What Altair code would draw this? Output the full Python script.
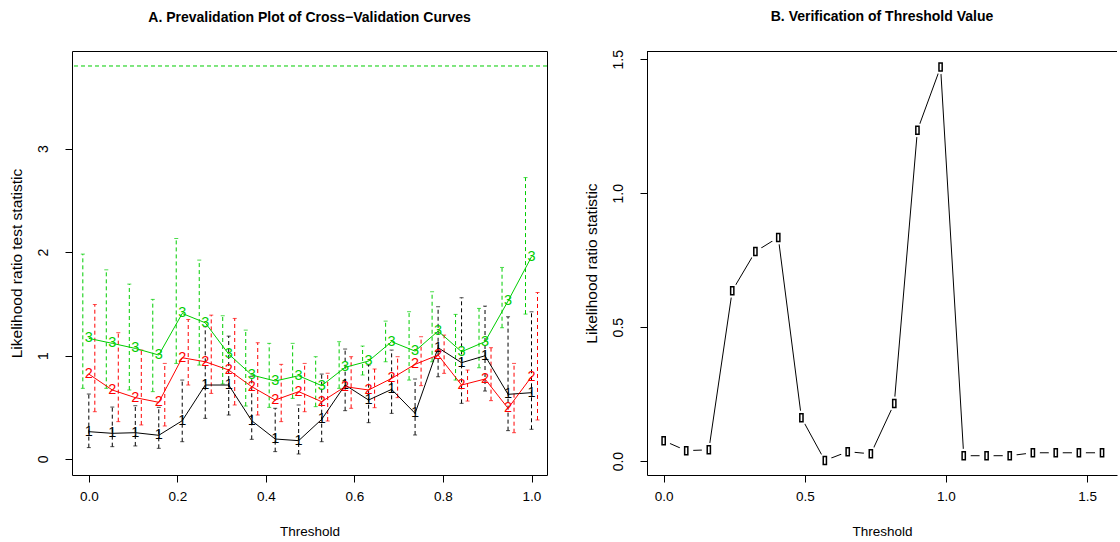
import altair as alt
import pandas as pd

# ---------------- Panel A data ----------------
thresholds = [0.000, 0.053, 0.105, 0.158, 0.211, 0.263, 0.316, 0.368, 0.421, 0.474,
              0.526, 0.579, 0.632, 0.684, 0.737, 0.789, 0.842, 0.895, 0.947, 1.000]

curve1 = [0.264, 0.248, 0.254, 0.229, 0.370, 0.715, 0.715, 0.370, 0.193, 0.177,
          0.383, 0.715, 0.570, 0.673, 0.441, 1.076, 0.931, 0.998, 0.625, 0.641]
curve1_lo = [0.110, 0.119, 0.126, 0.103, 0.167, 0.393, 0.425, 0.190, 0.071, 0.048,
             0.167, 0.467, 0.351, 0.441, 0.232, 0.795, 0.538, 0.657, 0.274, 0.287]
curve1_hi = [0.628, 0.502, 0.515, 0.499, 0.763, 1.279, 1.188, 0.800, 0.490, 0.522,
             0.821, 1.063, 0.908, 1.053, 0.773, 1.472, 1.559, 1.478, 1.375, 1.423]

curve2 = [0.821, 0.667, 0.593, 0.548, 0.979, 0.940, 0.860, 0.699, 0.570, 0.651,
          0.554, 0.699, 0.667, 0.779, 0.915, 1.005, 0.715, 0.773, 0.490, 0.795]
curve2_lo = [0.457, 0.361, 0.329, 0.319, 0.715, 0.634, 0.522, 0.425, 0.361, 0.457,
             0.367, 0.490, 0.496, 0.593, 0.709, 0.828, 0.560, 0.564, 0.254, 0.377]
curve2_hi = [1.494, 1.221, 1.053, 0.924, 1.349, 1.391, 1.359, 1.124, 0.915, 0.924,
             0.828, 0.989, 0.870, 0.989, 1.182, 1.198, 0.860, 1.076, 0.924, 1.610]

curve3 = [1.166, 1.118, 1.069, 1.005, 1.407, 1.317, 1.014, 0.812, 0.754, 0.805,
          0.709, 0.886, 0.947, 1.134, 1.043, 1.237, 1.037, 1.134, 1.527, 1.955]
curve3_lo = [0.683, 0.683, 0.667, 0.651, 0.924, 0.908, 0.725, 0.512, 0.499, 0.586,
             0.506, 0.683, 0.812, 0.940, 0.763, 0.940, 0.763, 0.882, 1.269, 1.401]
curve3_hi = [1.981, 1.829, 1.691, 1.543, 2.132, 1.923, 1.385, 1.246, 1.118, 1.118,
             0.989, 1.134, 1.092, 1.333, 1.424, 1.617, 1.398, 1.456, 1.852, 2.721]

critical_value = 3.80

# ---------------- Panel B data ----------------
thresholds_b = [0.000, 0.080, 0.160, 0.243, 0.325, 0.406, 0.488, 0.571, 0.652, 0.734,
                0.817, 0.899, 0.981, 1.063, 1.144, 1.226, 1.308, 1.389, 1.471, 1.553]
lr_stat = [0.076, 0.039, 0.042, 0.636, 0.782, 0.835, 0.162, 0.002, 0.035, 0.027,
           0.215, 1.235, 1.471, 0.020, 0.020, 0.020, 0.031, 0.031, 0.031, 0.031]

FONT = "Liberation Sans"
BLACK, RED, GREEN = "#000000", "#FF0000", "#00CD00"

rows = []
for name, vals, lo, hi in [("1", curve1, curve1_lo, curve1_hi),
                           ("2", curve2, curve2_lo, curve2_hi),
                           ("3", curve3, curve3_lo, curve3_hi)]:
    for t, v, l, h in zip(thresholds, vals, lo, hi):
        rows.append({"threshold": t, "curve": name, "value": v, "lo": l, "hi": h})
df_a = pd.DataFrame(rows)
df_crit = pd.DataFrame({"crit": [critical_value]})
df_b = pd.DataFrame({"threshold": thresholds_b, "lr": lr_stat})

color_scale = alt.Scale(domain=["1", "2", "3"], range=[BLACK, RED, GREEN])

common_x = dict(grid=False, ticks=True, tickSize=7, tickColor="black",
                tickWidth=1, labelFont=FONT, labelFontSize=13.5, labelColor="black",
                titleFont=FONT, titleFontSize=13.5, titleFontWeight="normal",
                titleColor="black", labelPadding=7, titlePadding=22)
common_y = dict(grid=False, ticks=True, tickSize=7, tickColor="black",
                tickWidth=1, labelFont=FONT, labelFontSize=14, labelColor="black",
                titleFont=FONT, titleFontSize=15.5, titleFontWeight="normal",
                titleColor="black", labelAngle=270, labelAlign="center",
                labelBaseline="bottom", labelPadding=15, titlePadding=12)

xa = alt.X("threshold:Q",
           scale=alt.Scale(domain=[-0.038, 1.035], nice=False, zero=False),
           axis=alt.Axis(values=[0, 0.2, 0.4, 0.6, 0.8, 1.0], format=".1f",
                         title="Threshold", domain=False, **common_x))
ya_scale = alt.Scale(domain=[-0.155, 3.945], nice=False, zero=False)
ya_axis = alt.Axis(values=[0, 1, 2, 3], format="d", title="Likelihood ratio test statistic",
                   domain=False, **common_y)

base_a = alt.Chart(df_a)

crit_line = alt.Chart(df_crit).mark_rule(color=GREEN, strokeDash=[4, 3], strokeWidth=1).encode(
    y=alt.Y("crit:Q", scale=ya_scale, axis=ya_axis)
)

layers = [crit_line]
offsets = {"1": 0, "2": 6, "3": -6}
for name, col in [("1", BLACK), ("2", RED), ("3", GREEN)]:
    sub = base_a.transform_filter(alt.datum.curve == name)
    bar = sub.mark_rule(color=col, strokeDash=[4, 3], strokeWidth=1, xOffset=offsets[name]).encode(
        x=xa, y=alt.Y("lo:Q", scale=ya_scale), y2="hi:Q")
    cap_lo = sub.mark_tick(color=col, orient="horizontal", size=4, thickness=1,
                           xOffset=offsets[name]).encode(x=xa, y=alt.Y("lo:Q", scale=ya_scale))
    cap_hi = sub.mark_tick(color=col, orient="horizontal", size=4, thickness=1,
                           xOffset=offsets[name]).encode(x=xa, y=alt.Y("hi:Q", scale=ya_scale))
    layers += [bar, cap_lo, cap_hi]

lines_a = base_a.mark_line(strokeWidth=1).encode(
    x=xa, y=alt.Y("value:Q", scale=ya_scale),
    color=alt.Color("curve:N", scale=color_scale, legend=None), detail="curve:N")
labels_a = base_a.mark_text(font=FONT, fontSize=14.5).encode(
    x=xa, y=alt.Y("value:Q", scale=ya_scale), text="curve:N",
    color=alt.Color("curve:N", scale=color_scale, legend=None))
layers += [lines_a, labels_a]

panel_a = alt.layer(*layers).properties(
    width=475, height=424,
    title=alt.TitleParams("A. Prevalidation Plot of Cross\u2212Validation Curves", font=FONT,
                          fontSize=14, fontWeight="bold", anchor="middle", frame="group",
                          offset=26, color="black"),
    view=alt.ViewConfig(stroke="black", strokeWidth=1)
)

# ---------------- Panel B ----------------
xb = alt.X("threshold:Q",
           scale=alt.Scale(domain=[-0.059, 1.606], nice=False, zero=False),
           axis=alt.Axis(values=[0, 0.5, 1.0, 1.5], format=".1f", title="Threshold",
                         domain=True, domainColor="black", domainWidth=1, **common_x))
yb = alt.Y("lr:Q", scale=alt.Scale(domain=[-0.052, 1.531], nice=False, zero=False),
           axis=alt.Axis(values=[0, 0.5, 1.0, 1.5], format=".1f",
                         title="Likelihood ratio statistic",
                         domain=True, domainColor="black", domainWidth=1, **common_y))
base_b = alt.Chart(df_b)
line_b = base_b.mark_line(color="black", strokeWidth=1).encode(x=xb, y=yb)
gap_b = base_b.mark_point(shape="circle", filled=True, color="white", opacity=1, size=200).encode(x=xb, y=yb)
rect_shape = "M-0.4,-1 L0.4,-1 L0.4,1 L-0.4,1 Z"
mark_b = base_b.mark_point(shape=rect_shape, filled=False, fill="white", fillOpacity=1,
                           stroke="black", strokeWidth=1.5, opacity=1, size=64).encode(x=xb, y=yb)
top_border = base_b.mark_rule(color="black", strokeWidth=1).encode(
    x=alt.value(0), x2=alt.value(470), y=alt.value(0.5))

panel_b = alt.layer(line_b, gap_b, mark_b, top_border).properties(
    width=470, height=424,
    title=alt.TitleParams("B. Verification of Threshold Value", font=FONT,
                          fontSize=14, fontWeight="bold", anchor="middle", frame="group",
                          offset=26, color="black"),
    view=alt.ViewConfig(stroke="transparent")
)

chart = alt.hconcat(panel_a, panel_b, spacing=35).properties(
    padding={"left": 8, "top": 9, "right": 0, "bottom": 0},
    background="white"
)

chart.save("out.html", embed_options={"renderer": "svg", "actions": False})
